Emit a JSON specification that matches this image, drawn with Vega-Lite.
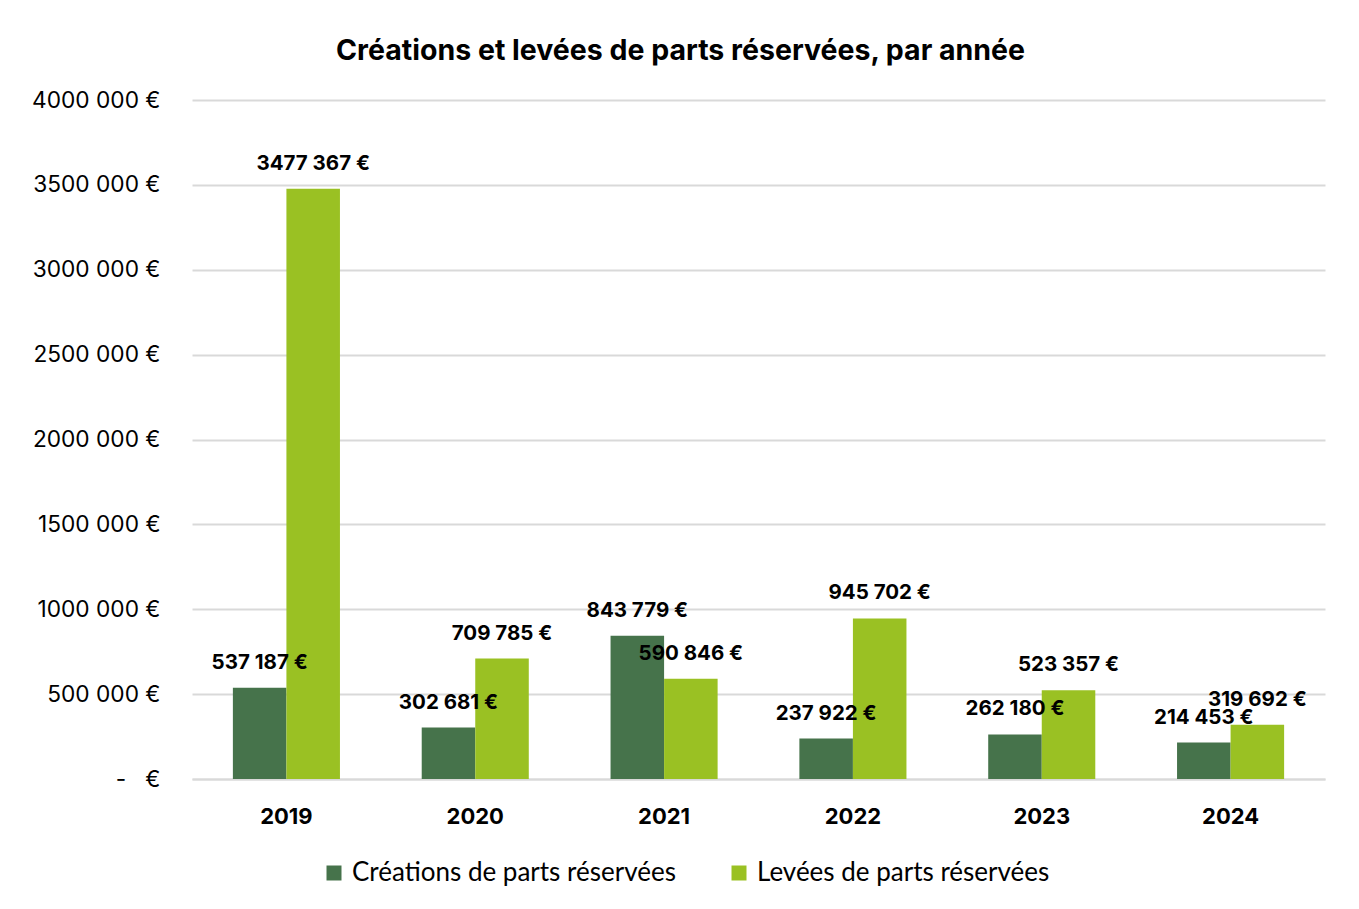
{
  "$schema": "https://vega.github.io/schema/vega-lite/v6.json",
  "autosize": "none",
  "padding": {"left": 192, "top": 100, "right": 34, "bottom": 130},
  "width": 1133,
  "height": 679,
  "background": "white",
  "config": {
    "locale": {"number": {"decimal": ",", "thousands": " ", "grouping": [3, 4], "currency": ["", " €"]}},
    "font": "Inter",
    "view": {"stroke": null}
  },
  "title": {
    "text": "Créations et levées de parts réservées, par année",
    "fontSize": 28.5,
    "fontWeight": "bold",
    "color": "#000000",
    "anchor": "middle",
    "frame": "group",
    "dx": -78,
    "offset": 24
  },
  "data": {
    "values": [
      {"annee": "2019", "serie": "Créations de parts réservées", "montant": 537187},
      {"annee": "2019", "serie": "Levées de parts réservées", "montant": 3477367},
      {"annee": "2020", "serie": "Créations de parts réservées", "montant": 302681},
      {"annee": "2020", "serie": "Levées de parts réservées", "montant": 709785},
      {"annee": "2021", "serie": "Créations de parts réservées", "montant": 843779},
      {"annee": "2021", "serie": "Levées de parts réservées", "montant": 590846},
      {"annee": "2022", "serie": "Créations de parts réservées", "montant": 237922},
      {"annee": "2022", "serie": "Levées de parts réservées", "montant": 945702},
      {"annee": "2023", "serie": "Créations de parts réservées", "montant": 262180},
      {"annee": "2023", "serie": "Levées de parts réservées", "montant": 523357},
      {"annee": "2024", "serie": "Créations de parts réservées", "montant": 214453},
      {"annee": "2024", "serie": "Levées de parts réservées", "montant": 319692}
    ]
  },
  "encoding": {
    "x": {
      "field": "annee",
      "type": "nominal",
      "title": null,
      "scale": {"paddingInner": 0.433, "paddingOuter": 0.2165},
      "axis": {
        "labelAngle": 0,
        "labelFontSize": 22,
        "labelFontWeight": "bold",
        "labelColor": "#000000",
        "labelPadding": 27,
        "ticks": false,
        "domain": true,
        "domainColor": "#d9d9d9",
        "domainWidth": 2,
        "grid": false
      }
    },
    "xOffset": {
      "field": "serie",
      "type": "nominal",
      "sort": ["Créations de parts réservées", "Levées de parts réservées"],
      "scale": {"paddingInner": 0, "paddingOuter": 0}
    },
    "y": {
      "field": "montant",
      "type": "quantitative",
      "title": null,
      "scale": {"domain": [0, 4000000], "nice": false},
      "axis": {
        "values": [0, 500000, 1000000, 1500000, 2000000, 2500000, 3000000, 3500000, 4000000],
        "labelExpr": "datum.value == 0 ? '-\u00a0\u00a0\u00a0€' : floor(datum.value / 1000) + ' 000 €'",
        "labelFontSize": 22.7,
        "labelColor": "#000000",
        "labelPadding": 32,
        "ticks": false,
        "domain": false,
        "grid": true,
        "gridColor": "#d9d9d9",
        "gridWidth": 2
      }
    }
  },
  "layer": [
    {
      "mark": {"type": "bar"},
      "encoding": {
        "color": {
          "field": "serie",
          "type": "nominal",
          "sort": ["Créations de parts réservées", "Levées de parts réservées"],
          "scale": {"domain": ["Créations de parts réservées", "Levées de parts réservées"], "range": ["#46734b", "#9ac123"]},
          "legend": {
            "orient": "none",
            "legendX": 129,
            "legendY": 760,
            "direction": "horizontal",
            "title": null,
            "symbolType": "square",
            "symbolSize": 225,
            "symbolStrokeWidth": 0,
            "labelFont": "Lato",
            "labelFontSize": 26,
            "labelLimit": 0,
            "labelColor": "#000000",
            "columnPadding": 50,
            "labelOffset": 5,
            "padding": 0
          }
        }
      }
    },
    {
      "mark": {"type": "text", "dy": -25, "fontSize": 20.5, "fontWeight": "bold", "color": "#000000", "baseline": "middle"},
      "encoding": {
        "text": {"field": "montant", "type": "quantitative", "format": "$,.0f"}
      }
    }
  ]
}
